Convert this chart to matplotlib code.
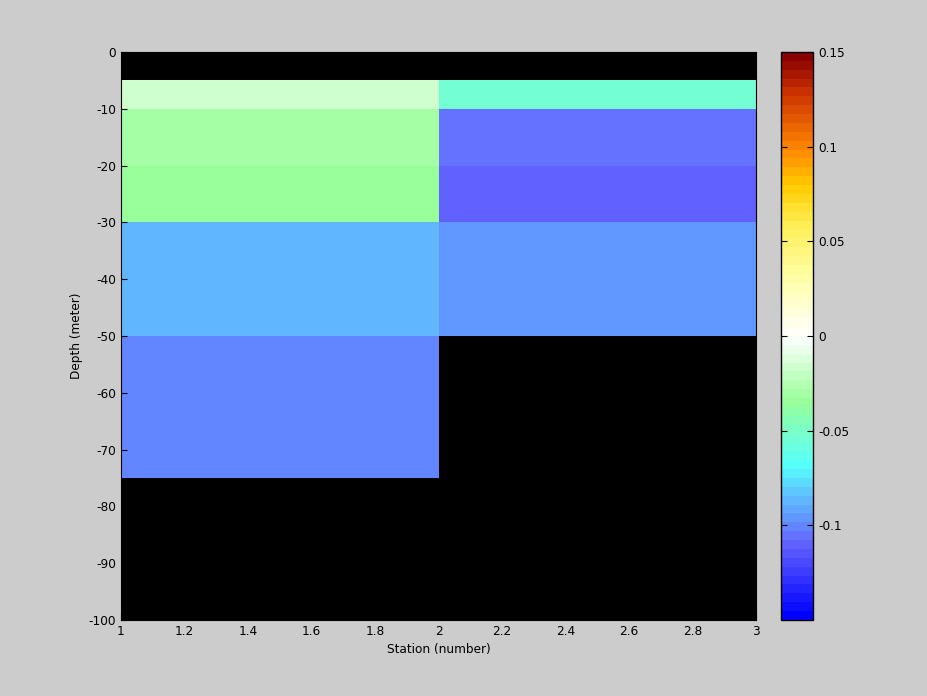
import numpy as np
import matplotlib
matplotlib.use('Agg')
import matplotlib.pyplot as plt
from matplotlib.colors import LinearSegmentedColormap, BoundaryNorm

plt.rcParams['axes.unicode_minus'] = False

# data
station_edges = [1, 2, 3]
depth_edges = [0, -5, -10, -20, -30, -50, -75, -100]
left_vals = [np.nan, -0.016, -0.03, -0.036, -0.088, -0.103, np.nan]
right_vals = [np.nan, -0.054, -0.105, -0.110, -0.097, np.nan, np.nan]
cb_ticks = [-0.1, -0.05, 0, 0.05, 0.1, 0.15]

vals = np.ma.masked_invalid(np.array([left_vals, right_vals]).T)

anchors = [(0.0, '#0000FF'), (0.1333, '#6666FF'), (0.1667, '#6090FF'),
           (0.2167, '#60C0FF'), (0.2667, '#55FFFF'), (0.3833, '#99FF99'),
           (0.5, '#FFFFFF'), (0.6, '#FFFFAA'), (0.7, '#FFEE55'),
           (0.7667, '#FFCC00'), (0.8333, '#FF8800'), (0.9333, '#CC3300'),
           (1.0, '#880000')]
cmap = LinearSegmentedColormap.from_list('bwr_like', anchors, N=64)
norm = BoundaryNorm(np.linspace(-0.15, 0.15, 65), 64)

fig = plt.figure(figsize=(9.28, 6.96), dpi=100, facecolor='#CCCCCC')
ax = fig.add_axes([0.1304, 0.1092, 0.6843, 0.8161])
ax.set_facecolor('black')
X, Y = np.meshgrid(station_edges, depth_edges)
ax.pcolormesh(X, Y, vals, cmap=cmap, norm=norm)
ax.set_xlim(1, 3)
ax.set_ylim(-100, 0)
ax.set_xticks(np.arange(1, 3.01, 0.2))
ax.set_xticklabels(['1', '1.2', '1.4', '1.6', '1.8', '2', '2.2', '2.4', '2.6', '2.8', '3'])
ax.set_yticks(np.arange(-100, 1, 10))
ax.tick_params(direction='in', labelsize=8.7, length=4)
ax.set_xlabel('Station (number)', fontsize=8.7)
ax.set_ylabel('Depth (meter)', fontsize=8.7)

cax = fig.add_axes([0.8416, 0.1092, 0.0345, 0.8161])
sm = matplotlib.cm.ScalarMappable(norm=norm, cmap=cmap)
cb = fig.colorbar(sm, cax=cax)
cb.minorticks_off()
cb.set_ticks(cb_ticks)
cb.set_ticklabels(['-0.1', '-0.05', '0', '0.05', '0.1', '0.15'])
cax.tick_params(direction='in', labelsize=8.7, length=4, left=True, right=True)
cax.minorticks_off()
cb.outline.set_linewidth(1)

fig.savefig('out.png', dpi=100, facecolor=fig.get_facecolor())
